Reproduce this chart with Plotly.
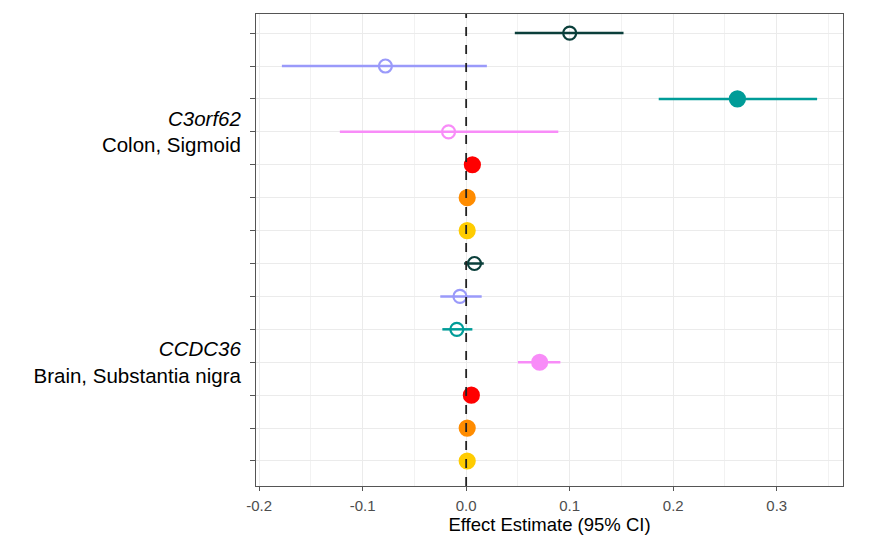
import plotly.graph_objects as go

# rows listed top to bottom
row_labels = ["", "", "", "<i>C3orf62</i><br>Colon, Sigmoid", "", "", "",
              "", "", "", "<i>CCDC36</i><br>Brain, Substantia nigra", "", "", ""]
estimate = [0.100, -0.078, 0.262, -0.017, 0.006, 0.001, 0.001,
            0.008, -0.006, -0.009, 0.071, 0.005, 0.001, 0.001]
ci_low = [0.047, -0.178, 0.186, -0.122, 0.006, 0.001, 0.001,
          -0.002, -0.025, -0.023, 0.050, 0.005, 0.001, 0.001]
ci_high = [0.152, 0.020, 0.339, 0.089, 0.006, 0.001, 0.001,
           0.017, 0.015, 0.006, 0.091, 0.005, 0.001, 0.001]
filled = [False, False, True, False, True, True, True,
          False, False, False, True, True, True, True]
colors = ["#0B3F3B", "#9A9AFA", "#009C98", "#F88CF8", "#FF0000", "#FF8C00", "#FFCC00",
          "#0B3F3B", "#9A9AFA", "#009C98", "#F88CF8", "#FF0000", "#FF8C00", "#FFCC00"]

n = len(estimate)
ypos = list(range(n, 0, -1))

fig = go.Figure()

for i in range(n):
    fig.add_trace(go.Scatter(
        x=[estimate[i]], y=[ypos[i]], mode="markers",
        marker=dict(symbol="circle" if filled[i] else "circle-open",
                    size=15 if filled[i] else 13, color=colors[i],
                    line=dict(width=2.2, color=colors[i])),
        error_x=dict(type="data", symmetric=False,
                     array=[ci_high[i] - estimate[i]],
                     arrayminus=[estimate[i] - ci_low[i]],
                     color=colors[i], thickness=2.5, width=0),
        showlegend=False, hoverinfo="skip",
    ))

fig.add_vline(x=0, line=dict(color="#222222", width=1.8, dash="dash"), layer="above")

# page body adds an 8px offset, margins compensate for it
fig.update_layout(
    width=880, height=535,
    margin=dict(l=248, r=45, t=6, b=57, autoexpand=False),
    plot_bgcolor="white", paper_bgcolor="white",
    font=dict(family="Arial, Liberation Sans, sans-serif", color="black"),
    xaxis=dict(
        range=[-0.203, 0.364], tickvals=[-0.2, -0.1, 0.0, 0.1, 0.2, 0.3],
        ticktext=["-0.2", "-0.1", "0.0", "0.1", "0.2", "0.3"],
        tickfont=dict(size=15, color="#4D4D4D"), ticklabelstandoff=2,
        showgrid=True, gridcolor="#EBEBEB", gridwidth=1.2,
        minor=dict(dtick=0.05, tick0=0, showgrid=True, gridcolor="#F2F2F2", gridwidth=0.8),
        zeroline=False, showline=True, linecolor="#555555", linewidth=1, mirror=True,
        ticks="outside", ticklen=4, tickcolor="#555555",
        title=dict(text="Effect Estimate (95% CI)", font=dict(size=18.5), standoff=3),
    ),
    yaxis=dict(
        range=[0.24, 14.58], tickvals=ypos, ticktext=row_labels,
        tickfont=dict(size=20.5, color="black"), ticklabelstandoff=5,
        showgrid=True, gridcolor="#EBEBEB", gridwidth=1.2,
        zeroline=False, showline=True, linecolor="#555555", linewidth=1, mirror=True,
        ticks="outside", ticklen=5, tickcolor="#555555",
    ),
)

fig.write_html("out.html")
